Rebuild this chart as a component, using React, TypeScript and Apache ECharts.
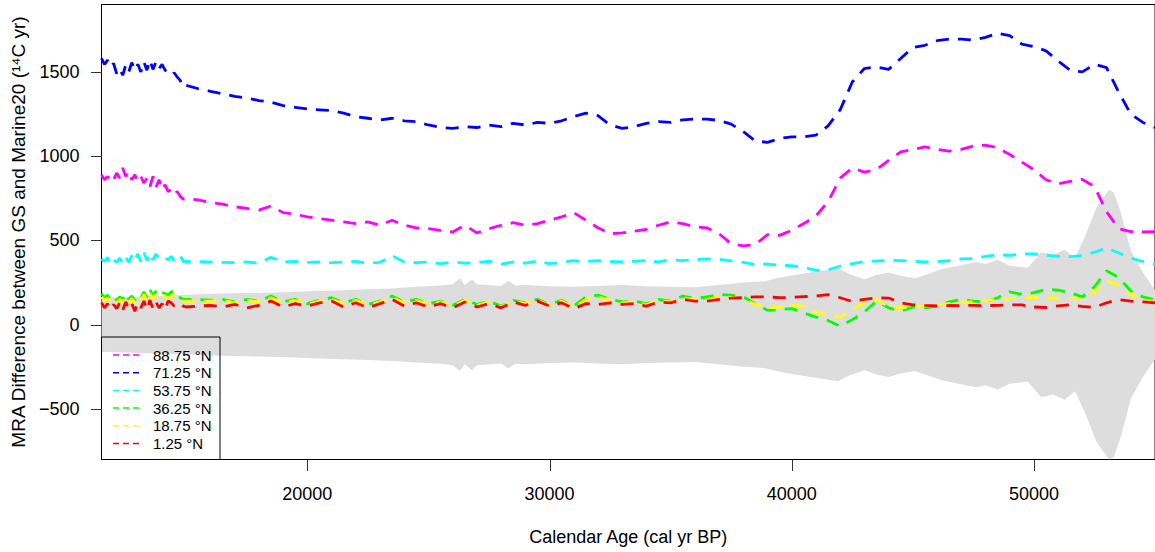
import React, { useEffect, useRef } from "react";
import * as echarts from "echarts";

// Calendar ages (cal yr BP) at which the MRA differences were read
const ages = [
  11500, 11625, 11750, 11875, 12000, 12125, 12250, 12375, 12500, 12625, 12750, 12875, 13000, 13125, 13250,
  13375, 13500, 13625, 13750, 13875, 14000, 14125, 14250, 14375, 14500, 14625, 14750, 14875, 15000,
  15500, 16000, 16500, 17000, 17500, 18000, 18500, 19000, 19500, 20000, 20500, 21000, 21500, 22000,
  22500, 23000, 23500, 24000, 24500, 25000, 25500, 26000, 26500, 27000, 27500, 28000, 28500, 29000,
  29500, 30000, 30500, 31000, 31500, 32000, 32500, 33000, 33500, 34000, 34500, 35000, 35500, 36000,
  36500, 37000, 37500, 38000, 38500, 39000, 39500, 40000, 40500, 41000, 41500, 42000, 42500, 43000,
  43500, 44000, 44500, 45000, 45500, 46000, 46500, 47000, 47500, 48000, 48500, 49000, 49500, 50000,
  50500, 51000, 51500, 52000, 52500, 53000, 53500, 54000, 54500, 55000,
];

const lat8875 = [
  890, 860, 880, 845, 860, 900, 870, 930, 880, 910, 860, 890, 850, 880, 840, 870, 820, 880, 815, 860,
  800, 830, 790, 800, 770, 790, 760, 745, 750,
  740, 725, 715, 700, 690, 680, 705, 665, 655, 640, 630, 620, 610, 600, 610, 590, 620, 590, 575, 570,
  560, 550, 590, 545, 570, 590, 605, 590, 600, 620, 640, 665, 620, 575, 540, 545, 555, 565, 590, 610,
  600, 580,
  575, 540, 480, 468, 475, 535, 530, 560, 600, 645, 730, 870, 930, 905, 920, 975, 1025, 1040, 1055, 1040,
  1030, 1040, 1060, 1065, 1050, 1010, 965, 920, 860, 835, 850, 862, 820, 670, 570, 552, 550, 552,
];

const lat7125 = [
  1580, 1545, 1570, 1530, 1550, 1490, 1520, 1480, 1540, 1500, 1555, 1510, 1545, 1500, 1560, 1510, 1570,
  1515, 1560, 1520, 1545, 1510, 1500, 1480, 1495, 1470, 1450, 1410, 1420,
  1400, 1385, 1370, 1355, 1345, 1330, 1320, 1300, 1290, 1280, 1275, 1270, 1255, 1235, 1225, 1215, 1225,
  1210, 1205, 1185, 1170, 1165, 1175, 1170, 1185, 1175, 1195, 1185, 1200, 1195, 1210, 1235, 1255, 1240,
  1185, 1165, 1175, 1195, 1205, 1200, 1215, 1220,
  1220, 1212, 1190, 1145, 1090, 1082, 1105, 1115, 1115, 1125, 1180, 1275, 1440, 1520, 1530, 1515, 1580,
  1645, 1658, 1685, 1695, 1695, 1688, 1705, 1730, 1715, 1665, 1650, 1625, 1565, 1510, 1500, 1545, 1525,
  1380, 1250, 1200, 1170,
];

const lat5375 = [
  390, 375, 400, 360, 385, 370, 395, 365, 400, 370, 410, 380, 420, 375, 430, 380, 425, 385, 420, 390,
  400, 395, 385, 405, 380, 385, 410, 375, 375,
  375, 372, 370, 368, 372, 365, 400, 372, 375, 370, 372, 368, 372, 375, 365, 370, 410, 372, 368, 372,
  362, 372, 365, 370, 375, 360, 372, 366, 378, 362, 370, 380, 375, 380, 375, 372, 376, 380, 372, 385,
  380, 386,
  390, 388, 378, 370, 356, 360, 352, 350, 340, 322, 325, 348, 362, 375, 378, 382, 380, 376, 372, 374,
  380, 390, 392, 405, 415, 412, 420, 420, 412, 405, 404, 410, 430, 455, 425, 395, 375, 360,
];

const lat3625 = [
  185, 160, 175, 150, 170, 145, 165, 150, 185, 150, 170, 145, 175, 160, 195, 160, 210, 170, 200, 175,
  190, 185, 175, 195, 200, 185, 160, 150, 150,
  150, 145, 150, 135, 150, 140, 170, 135, 150, 125, 145, 160, 130, 150, 120, 140, 170, 135, 150, 125,
  140, 115, 150, 120, 140, 110, 145, 130, 150, 120, 145, 110, 165, 175, 150, 135, 140, 125, 150, 140,
  170, 155,
  165, 180, 175, 165, 125, 85, 90, 95, 70, 45, 25, -10, 30, 75, 140, 100, 80, 105, 100, 110,
  135, 150, 140, 135, 160, 195, 180, 190, 210, 205, 190, 165, 225, 320, 280, 200, 165, 148,
];

const lat1875 = [
  165, 145, 160, 135, 155, 130, 150, 135, 165, 130, 155, 130, 160, 140, 180, 145, 190, 150, 185, 165,
  175, 170, 160, 170, 175, 165, 150, 140, 140,
  140, 140, 145, 130, 145, 135, 160, 130, 145, 120, 140, 150, 125, 145, 115, 135, 160, 130, 145, 120,
  135, 110, 145, 115, 135, 105, 140, 125, 145, 115, 140, 100, 150, 165, 145, 130, 135, 120, 145, 135,
  160, 148,
  150, 165, 162, 155, 120, 100, 105, 115, 110, 75, 60, 45, 85, 130, 150, 105, 100, 108, 112, 118,
  125, 130, 138, 145, 148, 155, 160, 160, 160, 158, 155, 155, 195, 260, 235, 180, 150, 136,
];

const lat0125 = [
  130, 100, 125, 90, 120, 95, 130, 85, 135, 95, 125, 80, 130, 100, 140, 90, 145, 95, 135, 100,
  125, 90, 140, 130, 110, 120, 125, 110, 105,
  110, 115, 105, 120, 100, 115, 140, 105, 125, 110, 130, 140, 105, 130, 100, 125, 150, 110, 130, 105,
  125, 100, 135, 105, 125, 100, 135, 115, 140, 110, 130, 95, 125, 120, 130, 120, 125, 110, 135, 130,
  150, 140,
  140, 150, 158, 160, 165, 165, 160, 162, 166, 170, 178, 160, 138, 150, 160, 158, 130, 118, 114, 112,
  114, 113, 115, 113, 115, 118, 117, 105, 102, 112, 118, 108, 102, 130, 148, 140, 135, 130,
];

// Uncertainty envelope (symmetric half-width around 0)
const bandAges = [
  11500, 12500, 13500, 14500, 15500, 16500, 17500, 18500, 19500, 20500, 21500, 22500, 23500, 24500,
  25500, 26000, 26300, 26500, 26800, 27000, 28000, 28300, 28600, 29000, 30000, 31000, 32000, 33000,
  34000, 35000, 36000, 37000, 38000, 38900, 39500, 40300, 41000, 41900, 42400, 43000, 43500, 44000,
  44500, 45100, 45600, 46200, 46900, 47600, 48000, 48500, 49000, 49750, 50300, 50800, 51270, 51700,
  52100, 52600, 53100, 53300, 53600, 54000, 54500, 55000,
];
const bandHalf = [
  160, 165, 170, 175, 180, 185, 188, 190, 195, 200, 205, 210, 215, 225,
  232, 240, 275, 235, 270, 240, 230, 260, 232, 235, 228, 225, 230, 235,
  228, 225, 222, 235, 250, 258, 280, 300, 315, 335, 300, 270, 295, 310,
  290, 275, 300, 330, 350, 372, 360, 385, 350, 338, 430, 415, 445, 395,
  520, 700, 800, 785, 660, 440, 310, 205,
];

const xTicks = [20000, 30000, 40000, 50000];
const yTicks = [-500, 0, 500, 1000, 1500];
const X_MIN = 11500;
const X_MAX = 55000;
const Y_MIN = -800;
const Y_MAX = 1900;

const seriesDefs = [
  { name: "88.75 °N", color: "#FF00FF", values: lat8875 },
  { name: "71.25 °N", color: "#0000FF", values: lat7125 },
  { name: "53.75 °N", color: "#00FFFF", values: lat5375 },
  { name: "36.25 °N", color: "#00FF00", values: lat3625 },
  { name: "18.75 °N", color: "#FFFF00", values: lat1875 },
  { name: "1.25 °N", color: "#FF0000", values: lat0125 },
];

const FONT = "'Liberation Sans', Arial, Helvetica, sans-serif";
const TICK_LEN = 11;
const GRID = { left: 101.5, top: 4.5, width: 1055.5, height: 455 };

export default function App() {
  const ref = useRef<HTMLDivElement>(null);

  useEffect(() => {
    if (!ref.current) return;
    const chart = echarts.init(ref.current, undefined, { renderer: "svg" });

    const lineSeries = seriesDefs.map((s) => ({
      name: s.name,
      type: "line",
      data: ages.map((a, i) => [a, s.values[i]]),
      symbol: "none",
      silent: true,
      z: 3,
      lineStyle: { color: s.color, width: 2.8, type: [13, 9], cap: "butt" },
    }));

    const legX = 101.5;
    const legY = 337;
    const rowY0 = 355;
    const rowStep = 17.7;
    const legendEls: any[] = [
      {
        type: "rect",
        shape: { x: legX, y: legY, width: 118.5, height: 122.5 },
        style: { fill: "none", stroke: "#000", lineWidth: 1 },
        z: 10,
      },
    ];
    seriesDefs.forEach((s, i) => {
      const yy = rowY0 + i * rowStep;
      legendEls.push({
        type: "line",
        shape: { x1: 113, y1: yy, x2: 142, y2: yy },
        style: { stroke: s.color, lineWidth: 1.5, lineDash: [6, 4] },
        z: 10,
      });
      legendEls.push({
        type: "text",
        x: 153,
        y: yy,
        style: {
          text: s.name,
          fontSize: 15,
          fontFamily: FONT,
          fill: "#000",
          verticalAlign: "middle",
          align: "left",
        },
        z: 10,
      });
    });

    const axisCommon = {
      axisLine: { show: true, onZero: false, lineStyle: { color: "#000", width: 1 } },
      splitLine: { show: false },
      axisTick: { show: false },
    };

    chart.setOption({
      animation: false,
      backgroundColor: "#fff",
      grid: {
        ...GRID,
        show: true,
        borderColor: "#000",
        borderWidth: 1,
        backgroundColor: "transparent",
      },
      xAxis: {
        type: "value",
        position: "bottom",
        min: X_MIN,
        max: X_MAX,
        name: "Calendar Age (cal yr BP)",
        nameLocation: "middle",
        nameGap: 68,
        nameTextStyle: { fontSize: 18, fontFamily: FONT, color: "#000" },
        ...axisCommon,
        axisLabel: {
          customValues: xTicks,
          margin: 25,
          fontSize: 18,
          fontFamily: FONT,
          color: "#000",
          formatter: (v: number) => String(v),
        },
      },
      yAxis: {
        type: "value",
        position: "left",
        min: Y_MIN,
        max: Y_MAX,
        name: "MRA Difference between GS and Marine20 (¹⁴C yr)",
        nameLocation: "middle",
        nameGap: 62,
        nameRotate: 90,
        nameTextStyle: { fontSize: 19, fontFamily: FONT, color: "#000" },
        ...axisCommon,
        axisLabel: {
          customValues: yTicks,
          margin: 22,
          fontSize: 18,
          fontFamily: FONT,
          color: "#000",
          formatter: (v: number) => (v < 0 ? "\u2212" + Math.abs(v) : String(v)),
        },
      },
      series: [
        {
          name: "band",
          type: "custom",
          silent: true,
          z: 1,
          data: bandAges.map((a, i) => [a, bandHalf[i]]),
          encode: { x: 0, y: 1 },
          renderItem: (params: any, api: any) => {
            if (params.dataIndex !== 0) return null;
            const pts: number[][] = [];
            for (let i = 0; i < bandAges.length; i++) {
              pts.push(api.coord([bandAges[i], bandHalf[i]]));
            }
            for (let i = bandAges.length - 1; i >= 0; i--) {
              pts.push(api.coord([bandAges[i], -bandHalf[i]]));
            }
            return {
              type: "polygon",
              shape: { points: pts },
              style: { fill: "#DDDDDD", stroke: "none" },
            };
          },
        },
        ...lineSeries,
      ],
      graphic: legendEls,
    });

    // Axis tick marks: pixel positions from the chart's scale, with a
    // linear fallback from the same axis extents if conversion fails.
    const toPx = (x: number, y: number): number[] => {
      let p: any = null;
      try {
        p = chart.convertToPixel("grid", [x, y]);
      } catch (e) {
        p = null;
      }
      if (Array.isArray(p) && isFinite(p[0]) && isFinite(p[1])) return p;
      return [
        GRID.left + ((x - X_MIN) / (X_MAX - X_MIN)) * GRID.width,
        GRID.top + ((Y_MAX - y) / (Y_MAX - Y_MIN)) * GRID.height,
      ];
    };
    const corner = toPx(X_MIN, Y_MIN);
    const tickEls: any[] = [];
    xTicks.forEach((v, i) => {
      const p = toPx(v, Y_MIN);
      tickEls.push({
        type: "rect",
        id: "xt" + i,
        shape: { x: Math.round(p[0]), y: Math.round(corner[1]), width: 1, height: TICK_LEN },
        style: { fill: "#333" },
        z: 100,
      });
    });
    yTicks.forEach((v, i) => {
      const p = toPx(X_MIN, v);
      tickEls.push({
        type: "rect",
        id: "yt" + i,
        shape: { x: Math.round(corner[0]) - TICK_LEN, y: Math.round(p[1]), width: TICK_LEN, height: 1 },
        style: { fill: "#333" },
        z: 100,
      });
    });

    chart.setOption({ graphic: [...legendEls, ...tickEls] });

    return () => chart.dispose();
  }, []);

  return (
    <div
      ref={ref}
      style={{ position: "fixed", left: 0, top: 0, width: 1155, height: 552, background: "#fff" }}
    />
  );
}
